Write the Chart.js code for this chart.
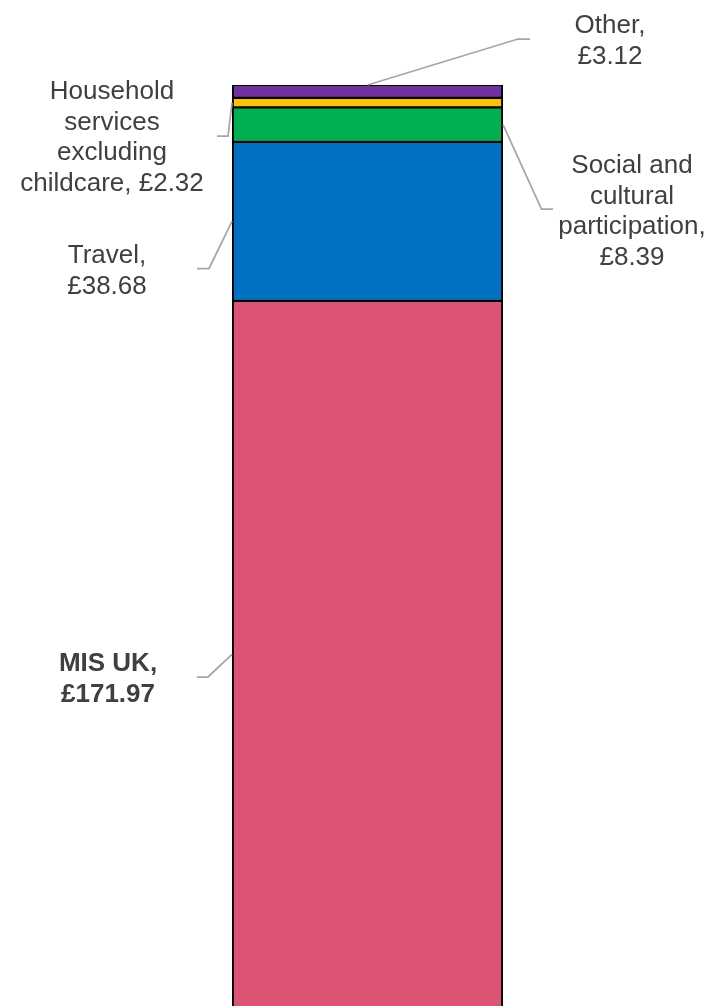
<!DOCTYPE html>
<html>
<head>
<meta charset="utf-8">
<script src="https://cdn.jsdelivr.net/npm/chart.js@4/dist/chart.umd.min.js"></script>
<style>
  html, body { margin: 0; padding: 0; background: #fff; overflow: hidden; }
  #wrap { width: 716px; height: 1006px; overflow: hidden; }
</style>
</head>
<body>
<div id="wrap"><canvas id="chart" width="716" height="1012"></canvas></div>
<script>
/* weekly budget components, stacked bottom to top */
const categories = ['MIS UK', 'Travel', 'Social and cultural participation', 'Household services excluding childcare', 'Other'];
const values     = [171.97, 38.68, 8.39, 2.32, 3.12];
const colours    = ['#DC5474', '#0070C0', '#00B050', '#FFC000', '#7030A0'];

/* how each label wraps; the value is added either on its own line or after the last one */
const labelLines = [
  ['MIS UK,'],
  ['Travel,'],
  ['Social and', 'cultural', 'participation,'],
  ['Household', 'services', 'excluding', 'childcare,'],
  ['Other,'],
];
const valueOnLastLine = [false, false, false, true, false];

/* label placement: side of the bar for the leader, elbow/end of leader, text centre */
const labelLayout = [
  { side: 'left',  elbow: [208, 677],   end: [197, 677],   tx: 108, ty: 664, bold: true },
  { side: 'left',  elbow: [209, 268.5], end: [197, 268.5], tx: 107, ty: 256 },
  { side: 'right', elbow: [541.5, 209], end: [553, 209],   tx: 632, ty: 166 },
  { side: 'left',  elbow: [228, 136],   end: [217, 136],   tx: 112, ty: 92 },
  { side: 'top',   elbow: [518, 39],    end: [530, 39],    tx: 610, ty: 26 },
];

const total = values.reduce((a, b) => a + b, 0);
const fmt = v => '£' + v.toFixed(2);

const leaderLabels = {
  id: 'leaderLabels',
  afterDatasetsDraw(chart) {
    const ctx = chart.ctx;
    ctx.save();
    chart.data.datasets.forEach((ds, i) => {
      const el = chart.getDatasetMeta(i).data[0];
      const lay = labelLayout[i];
      const half = el.width / 2;
      let ax, ay;
      if (lay.side === 'top') { ax = el.x; ay = el.y; }
      else {
        ax = lay.side === 'left' ? el.x - half : el.x + half;
        ay = (el.y + el.base) / 2;
      }
      ctx.strokeStyle = '#A6A6A6';
      ctx.lineWidth = 1.75;
      ctx.beginPath();
      ctx.moveTo(ax, ay);
      ctx.lineTo(lay.elbow[0], lay.elbow[1]);
      ctx.lineTo(lay.end[0], lay.end[1]);
      ctx.stroke();

      const lines = labelLines[i].slice();
      if (valueOnLastLine[i]) lines[lines.length - 1] += ' ' + fmt(values[i]);
      else lines.push(fmt(values[i]));
      ctx.fillStyle = '#404040';
      ctx.font = (lay.bold ? 'bold ' : '') + '26px "Liberation Sans", Arial, sans-serif';
      ctx.textAlign = 'center';
      ctx.textBaseline = 'middle';
      lines.forEach((t, k) => ctx.fillText(t, lay.tx, lay.ty + k * 30.6));
    });
    ctx.restore();
  }
};

new Chart(document.getElementById('chart'), {
  type: 'bar',
  data: {
    labels: ['Total'],
    datasets: categories.map((c, i) => ({
      label: c,
      data: [values[i]],
      backgroundColor: colours[i],
      borderColor: '#000',
      borderWidth: { top: 1.4, bottom: 1.4, left: 2.2, right: 2.2 },
      borderSkipped: false,
      barPercentage: 1,
      categoryPercentage: 1,
    })),
  },
  options: {
    responsive: false,
    animation: false,
    layout: { padding: { left: 232, right: 213, top: 85, bottom: 4 } },
    plugins: { legend: { display: false }, tooltip: { enabled: false } },
    scales: {
      x: { stacked: true, display: false },
      y: { stacked: true, display: false, min: 0, max: total },
    },
  },
  plugins: [leaderLabels],
});
</script>
</body>
</html>
